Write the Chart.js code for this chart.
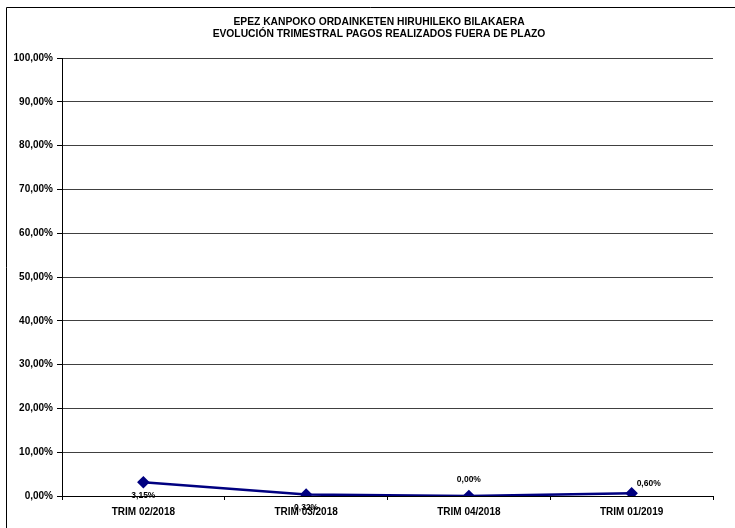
<!DOCTYPE html>
<html>
<head>
<meta charset="utf-8">
<script src="https://cdn.jsdelivr.net/npm/chart.js@4/dist/chart.umd.min.js"></script>
<style>
  html, body { margin: 0; padding: 0; background: #fff; }
  #wrap { width: 735px; height: 528px; position: relative; }
</style>
</head>
<body>
<div id="wrap"><canvas id="chart" width="735" height="528"></canvas></div>
<script>
// --- datos ---
const titleLines = ['EPEZ KANPOKO ORDAINKETEN HIRUHILEKO BILAKAERA', 'EVOLUCIÓN TRIMESTRAL PAGOS REALIZADOS FUERA DE PLAZO'];
const quarters = ['TRIM 02/2018', 'TRIM 03/2018', 'TRIM 04/2018', 'TRIM 01/2019'];
const lateRatio = [3.15, 0.32, 0.00, 0.60];
const labelPlacement = ['below', 'below', 'above', 'right'];

const fmt = v => v.toFixed(2).replace('.', ',') + '%';
const FONT = 'Liberation Sans, Arial, sans-serif';

// marco exterior + título
const framePlugin = {
  id: 'frame',
  beforeDraw(chart) {
    const c = chart.ctx;
    c.save();
    c.fillStyle = '#fff';
    c.fillRect(0, 0, chart.width, chart.height);
    c.strokeStyle = '#000';
    c.lineWidth = 1;
    c.beginPath();
    c.moveTo(6.5, chart.height);
    c.lineTo(6.5, 7.5);
    c.lineTo(chart.width, 7.5);
    c.stroke();
    c.fillStyle = '#000';
    c.font = 'bold 10.3px ' + FONT;
    c.textAlign = 'center';
    c.textBaseline = 'middle';
    c.fillText(titleLines[0], 379, 22);
    c.fillText(titleLines[1], 379, 34);
    c.restore();
  }
};

// etiquetas de valores
const labelsPlugin = {
  id: 'valueLabels',
  afterDatasetsDraw(chart) {
    const c = chart.ctx;
    const meta = chart.getDatasetMeta(0);
    c.save();
    c.fillStyle = '#000';
    c.font = 'bold 8.5px ' + FONT;
    c.textBaseline = 'middle';
    meta.data.forEach((pt, i) => {
      const txt = fmt(lateRatio[i]);
      const pos = labelPlacement[i];
      if (pos === 'below') {
        c.textAlign = 'center';
        c.fillText(txt, pt.x, pt.y + 13);
      } else if (pos === 'above') {
        c.textAlign = 'center';
        c.fillText(txt, pt.x, pt.y - 16);
      } else {
        c.textAlign = 'left';
        c.fillText(txt, pt.x + 5, pt.y - 10);
      }
    });
    c.restore();
  }
};

new Chart(document.getElementById('chart'), {
  type: 'line',
  data: {
    labels: quarters,
    datasets: [{
      data: lateRatio,
      borderColor: '#000080',
      backgroundColor: '#000080',
      borderWidth: 2.5,
      pointStyle: 'rectRot',
      pointRadius: 4.5,
      pointHoverRadius: 4.5,
      tension: 0,
      fill: false
    }]
  },
  options: {
    responsive: false,
    animation: false,
    events: [],
    layout: { padding: { top: 58, right: 22, left: 0, bottom: 0 } },
    plugins: { legend: { display: false }, tooltip: { enabled: false } },
    scales: {
      x: {
        offset: true,
        afterFit(s) { s.height = 32; },
        grid: { offset: true, drawOnChartArea: false, color: '#000', tickLength: 4, tickColor: '#000' },
        border: { color: '#000', width: 1 },
        ticks: { color: '#000', font: { family: FONT, size: 10, weight: 'bold' }, padding: 6, maxRotation: 0 }
      },
      y: {
        min: 0,
        max: 100,
        afterFit(s) { s.width = 62; },
        grid: { color: '#404040', tickLength: 5, tickColor: '#000' },
        border: { color: '#000', width: 1 },
        ticks: {
          stepSize: 10,
          color: '#000',
          padding: 4,
          font: { family: FONT, size: 10, weight: 'bold' },
          callback: v => fmt(v)
        }
      }
    }
  },
  plugins: [framePlugin, labelsPlugin]
});
</script>
</body>
</html>
